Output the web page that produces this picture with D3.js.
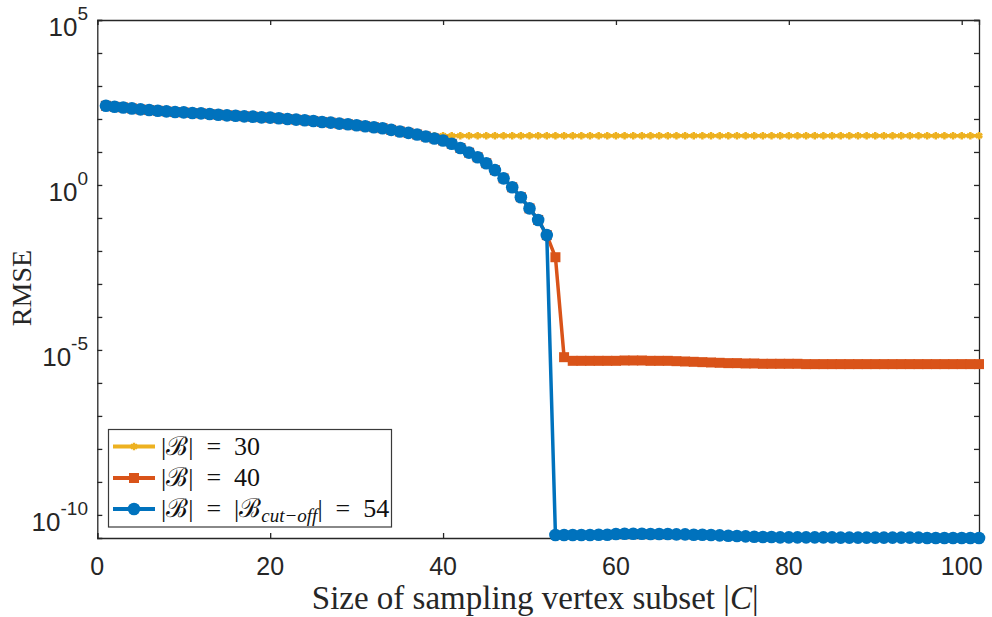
<!DOCTYPE html>
<html>
<head>
<meta charset="utf-8">
<script src="https://cdn.jsdelivr.net/npm/d3@7"></script>
<style>
body{margin:0;background:#fff;}
svg{display:block;}
</style>
</head>
<body>
<svg id="graph" width="992" height="617"></svg>
<script>
// log10(RMSE), x = 1..102
// all three curves lie on top of each other up to x = 37
var sharedStart = [
 2.40,2.37,2.35,2.32,2.29,2.27,2.25,2.23,2.21,2.20,
 2.18,2.17,2.15,2.13,2.11,2.10,2.08,2.07,2.05,2.04,
 2.02,2.00,1.98,1.96,1.94,1.91,1.89,1.86,1.84,1.81,
 1.78,1.75,1.72,1.67,1.62,1.58,1.53
];
// x = 38..102
var tail30 = [
 1.49,1.49,1.49,1.49,1.49,1.49,1.49,1.49,1.49,1.49,
 1.49,1.49,1.49,1.49,1.49,1.49,1.49,1.49,1.49,1.49,
 1.49,1.49,1.49,1.49,1.49,1.49,1.49,1.49,1.49,1.49,
 1.49,1.49,1.49,1.49,1.49,1.49,1.49,1.49,1.49,1.49,
 1.49,1.49,1.49,1.49,1.49,1.49,1.49,1.49,1.49,1.49,
 1.49,1.49,1.49,1.49,1.49,1.49,1.49,1.49,1.49,1.49,
 1.49,1.49,1.49,1.49,1.49
];
var tail40 = [
 1.47,1.41,1.35,1.25,1.12,0.98,0.84,0.66,0.45,0.20,
 -0.07,-0.37,-0.71,-1.06,-1.52,-2.19,-5.22,-5.33,-5.33,-5.33,
 -5.33,-5.33,-5.33,-5.32,-5.32,-5.32,-5.33,-5.33,-5.33,-5.34,
 -5.35,-5.36,-5.37,-5.38,-5.39,-5.40,-5.40,-5.41,-5.41,-5.42,
 -5.42,-5.42,-5.42,-5.42,-5.43,-5.43,-5.43,-5.43,-5.43,-5.43,
 -5.43,-5.43,-5.43,-5.43,-5.43,-5.43,-5.43,-5.43,-5.43,-5.43,
 -5.43,-5.43,-5.43,-5.43,-5.43
];
var tail54 = [
 1.47,1.41,1.35,1.25,1.12,0.98,0.84,0.66,0.45,0.20,
 -0.07,-0.37,-0.71,-1.06,-1.52,-10.61,-10.61,-10.61,-10.61,-10.61,
 -10.60,-10.60,-10.58,-10.57,-10.57,-10.57,-10.58,-10.58,-10.58,-10.59,
 -10.59,-10.60,-10.60,-10.61,-10.62,-10.63,-10.64,-10.65,-10.66,-10.67,
 -10.67,-10.68,-10.68,-10.68,-10.68,-10.68,-10.68,-10.68,-10.69,-10.69,
 -10.69,-10.69,-10.69,-10.69,-10.69,-10.69,-10.69,-10.69,-10.70,-10.70,
 -10.70,-10.70,-10.70,-10.70,-10.70
];
var xTicks = [0,20,40,60,80,100];
var yTickExp = [-10,-9,-8,-7,-6,-5,-4,-3,-2,-1,0,1,2,3,4,5];
var yLabelExp = [-10,-5,0,5];

var colors = {b30:"#EDB120", b40:"#D95319", b54:"#0072BD"};

var svg = d3.select("#graph");
var box = {left:97.3, right:979, top:20, bottom:538};

var xScale = d3.scaleLinear().domain([0,102]).range([box.left,box.right]);
var yScale = d3.scaleLog().domain([Math.pow(10,-10.7),1e5]).range([box.bottom,box.top]);

var makeSeries = function(tail)
{
    return sharedStart.concat(tail).map(function(v,i){
        return {x:i+1, y:Math.pow(10,v)};
    });
}
var s30 = makeSeries(tail30);
var s40 = makeSeries(tail40);
var s54 = makeSeries(tail54);

var serif = "'Liberation Serif', 'DejaVu Serif', serif";
var calB = "\u212C";

// axes, ticks pointing inwards on all four sides
var axisCol = "#262626";
var drawAxes = function()
{
    svg.append("g").attr("transform","translate(0,"+box.bottom+")")
        .call(d3.axisBottom(xScale).tickValues(xTicks).tickSize(-5).tickFormat(""));
    svg.append("g").attr("transform","translate(0,"+box.top+")")
        .call(d3.axisTop(xScale).tickValues(xTicks).tickSize(-5).tickFormat(""));
    var yVals = yTickExp.map(function(e){return Math.pow(10,e);});
    svg.append("g").attr("transform","translate("+box.left+",0)")
        .call(d3.axisLeft(yScale).tickValues(yVals).tickSize(-5).tickFormat(""));
    svg.append("g").attr("transform","translate("+box.right+",0)")
        .call(d3.axisRight(yScale).tickValues(yVals).tickSize(-5).tickFormat(""));
    svg.selectAll(".domain").attr("stroke",axisCol).attr("stroke-width",1.3);
    svg.selectAll(".tick line").attr("stroke",axisCol).attr("stroke-width",1.3);

    svg.append("g").selectAll("text").data(xTicks).enter().append("text")
        .attr("x",function(d){return xScale(d);})
        .attr("y",box.bottom+37)
        .attr("text-anchor","middle")
        .attr("font-family","'Liberation Sans', Arial, sans-serif")
        .attr("font-size",25)
        .attr("fill",axisCol)
        .text(function(d){return d;});

    var yl = svg.append("g").selectAll("text").data(yLabelExp).enter().append("text")
        .attr("x",88)
        .attr("y",function(d){return yScale(Math.pow(10,d))+16;})
        .attr("text-anchor","end")
        .attr("font-family","'Liberation Sans', Arial, sans-serif")
        .attr("font-size",26)
        .attr("fill",axisCol);
    yl.append("tspan").text("10");
    yl.append("tspan").attr("dy",-16).attr("font-size",19)
        .text(function(d){return d<0 ? "-"+(-d) : d;});

    svg.append("text")
        .attr("transform","translate(31,288) rotate(-90)")
        .attr("text-anchor","middle")
        .attr("font-family",serif)
        .attr("font-size",28)
        .attr("fill",axisCol)
        .text("RMSE");

    var xl = svg.append("text")
        .attr("x",(box.left+box.right)/2 - 3)
        .attr("y",609)
        .attr("text-anchor","middle")
        .attr("font-family",serif)
        .attr("font-size",33)
        .attr("fill",axisCol);
    xl.append("tspan").text("Size of sampling vertex subset |");
    xl.append("tspan").attr("font-style","italic").text("C");
    xl.append("tspan").text("|");
}

var drawLine = function(data,col)
{
    var line = d3.line()
        .x(function(d){return xScale(d.x);})
        .y(function(d){return yScale(d.y);});
    svg.append("path").datum(data)
        .attr("d",line)
        .attr("fill","none")
        .attr("stroke",col)
        .attr("stroke-width",3.5)
        .attr("stroke-linejoin","round");
}

var drawMarkers = function(data,col,kind)
{
    var g = svg.append("g");
    if (kind=="circle")
    {
        g.selectAll("circle").data(data).enter().append("circle")
            .attr("cx",function(d){return xScale(d.x);})
            .attr("cy",function(d){return yScale(d.y);})
            .attr("r",6.3)
            .attr("fill",col);
    }
    else
    {
        var sym = kind=="square" ? d3.symbol(d3.symbolSquare,100) : d3.symbol(d3.symbolAsterisk,40);
        g.selectAll("path").data(data).enter().append("path")
            .attr("transform",function(d){return "translate("+xScale(d.x)+","+yScale(d.y)+")";})
            .attr("d",sym)
            .attr("fill",kind=="square" ? col : "none")
            .attr("stroke",col)
            .attr("stroke-width",kind=="square" ? 0 : 2.5);
    }
}

var drawLegend = function()
{
    var lg = svg.append("g");
    lg.append("rect")
        .attr("x",108.5).attr("y",429.5).attr("width",283).attr("height",97.5)
        .attr("fill","#fff").attr("stroke","#3a3a3a").attr("stroke-width",1.2);
    var rows = [
        {col:colors.b30, kind:"star", y:446.5},
        {col:colors.b40, kind:"square", y:478},
        {col:colors.b54, kind:"circle", y:509}
    ];
    rows.forEach(function(r){
        lg.append("line").attr("x1",113).attr("x2",155).attr("y1",r.y).attr("y2",r.y)
            .attr("stroke",r.col).attr("stroke-width",4);
        if (r.kind=="circle")
            lg.append("circle").attr("cx",134).attr("cy",r.y).attr("r",6.3).attr("fill",r.col);
        else if (r.kind=="square")
            lg.append("path").attr("transform","translate(134,"+r.y+")")
                .attr("d",d3.symbol(d3.symbolSquare,100)).attr("fill",r.col);
        else
            lg.append("path").attr("transform","translate(134,"+r.y+")")
                .attr("d",d3.symbol(d3.symbolAsterisk,40)).attr("fill","none")
                .attr("stroke",r.col).attr("stroke-width",2.5);
    });
    var txt = function(y)
    {
        return lg.append("text").attr("x",161).attr("y",y+8)
            .attr("font-family",serif)
            .attr("font-size",26).attr("fill","#111");
    }
    var eq = "\u2002=\u2002";
    var t1 = txt(446.5);
    t1.append("tspan").text("|"+calB+"|"+eq+"30");
    var t2 = txt(478);
    t2.append("tspan").text("|"+calB+"|"+eq+"40");
    var t3 = txt(509);
    t3.append("tspan").text("|"+calB+"|"+eq+"|"+calB);
    t3.append("tspan").attr("font-style","italic").attr("font-size",19).attr("dy",5).text("cut\u2212off");
    t3.append("tspan").attr("dy",-5).text("|"+eq+"54");
}

drawAxes();
drawLine(s30,colors.b30);
drawMarkers(s30,colors.b30,"star");
drawLine(s40,colors.b40);
drawMarkers(s40,colors.b40,"square");
drawLine(s54,colors.b54);
drawMarkers(s54,colors.b54,"circle");
drawLegend();
</script>
</body>
</html>
